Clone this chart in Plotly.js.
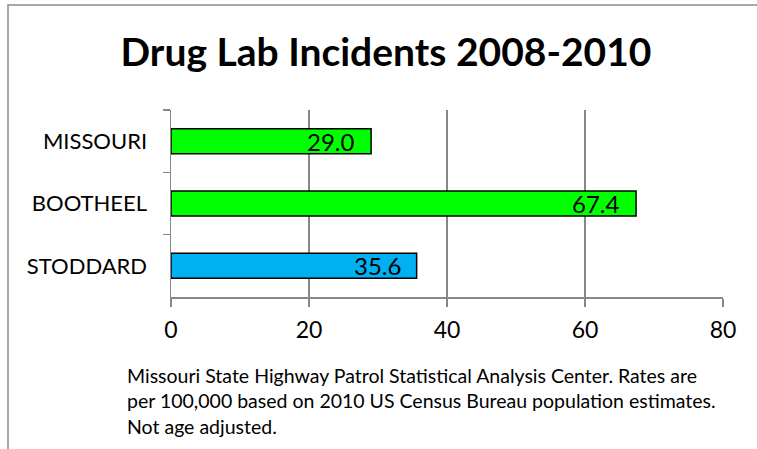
<!DOCTYPE html>
<html>
<head>
<meta charset="utf-8">
<script src="https://cdn.plot.ly/plotly-3.0.1.min.js"></script>
<style>html,body{margin:0;padding:0;background:#fff;}#chart{width:757px;height:449px;}</style>
</head>
<body>
<div id="chart"></div>
<script>
const categories = ["MISSOURI", "BOOTHEEL", "STODDARD"];
const values = [29.0, 67.4, 35.6];
const barColors = ["#00FF00", "#00FF00", "#00B0F0"];
const xTicks = [0, 20, 40, 60, 80];
const titleText = "Drug Lab Incidents 2008-2010";
const noteLines = [
  "Missouri State Highway Patrol Statistical Analysis Center. Rates are",
  "per 100,000 based on 2010 US Census Bureau population estimates.",
  "Not age adjusted."
];

const FONT = "Lato, 'Open Sans', sans-serif";
const grey = "#878787";

const trace = {
  type: "bar",
  orientation: "h",
  y: categories,
  x: values,
  marker: {color: barColors, line: {color: "#000", width: 1.5}},
  hoverinfo: "skip"
};

const labelAnn = categories.map((c, i) => ({
  x: values[i], y: c, xref: "x", yref: "y",
  text: values[i].toFixed(1), showarrow: false,
  xanchor: "right", yanchor: "middle", xshift: -14, yshift: 0,
  font: {family: FONT, size: 24, color: "#000"}
}));

const noteAnn = {
  xref: "paper", yref: "paper", x: (125 - 171) / 552, y: (297 - 362) / 187,
  xanchor: "left", yanchor: "top", align: "left", showarrow: false,
  text: noteLines.join("<br>"),
  font: {family: FONT, size: 19.5, color: "#000"}
};

const layout = {
  width: 757, height: 449,
  margin: {l: 171, r: 34, t: 110, b: 152, pad: 0},
  paper_bgcolor: "#fff", plot_bgcolor: "#fff",
  showlegend: false,
  bargap: 0.6,
  title: {text: "<b>" + titleText + "</b>", x: 386 / 757, xanchor: "center", xref: "container",
          y: 1 - 52 / 449, yanchor: "middle", yref: "container",
          font: {family: FONT, size: 39, color: "#000"}},
  xaxis: {
    range: [0, 80], tickvals: xTicks, ticktext: xTicks.map(String),
    showgrid: true, gridcolor: grey, gridwidth: 1.5,
    showline: true, linecolor: grey, linewidth: 1.5,
    ticks: "outside", ticklen: 8, tickcolor: grey, tickwidth: 1.5,
    tickfont: {family: FONT, size: 23, color: "#000"},
    ticklabelstandoff: 4, zeroline: false, fixedrange: true
  },
  yaxis: {
    type: "category", categoryorder: "array", categoryarray: categories,
    autorange: "reversed",
    showgrid: false, showline: true, linecolor: grey, linewidth: 1.5,
    ticks: "outside", tickson: "boundaries", ticklen: 7, tickcolor: grey, tickwidth: 1.5,
    tickfont: {family: FONT, size: 22, color: "#000"},
    ticklabelstandoff: 18, fixedrange: true
  },
  annotations: labelAnn.concat([noteAnn]),
  shapes: [{
    type: "path", xref: "paper", yref: "paper",
    path: "M " + ((8 - 171) / 552) + " " + ((297 - 460) / 187) +
          " L " + ((8 - 171) / 552) + " " + ((297 - 5) / 187) +
          " L " + ((770 - 171) / 552) + " " + ((297 - 5) / 187),
    line: {color: "#8c8c8c", width: 1.5}
  }]
};

Plotly.newPlot("chart", [trace], layout, {staticPlot: true, displayModeBar: false});
</script>
</body>
</html>
